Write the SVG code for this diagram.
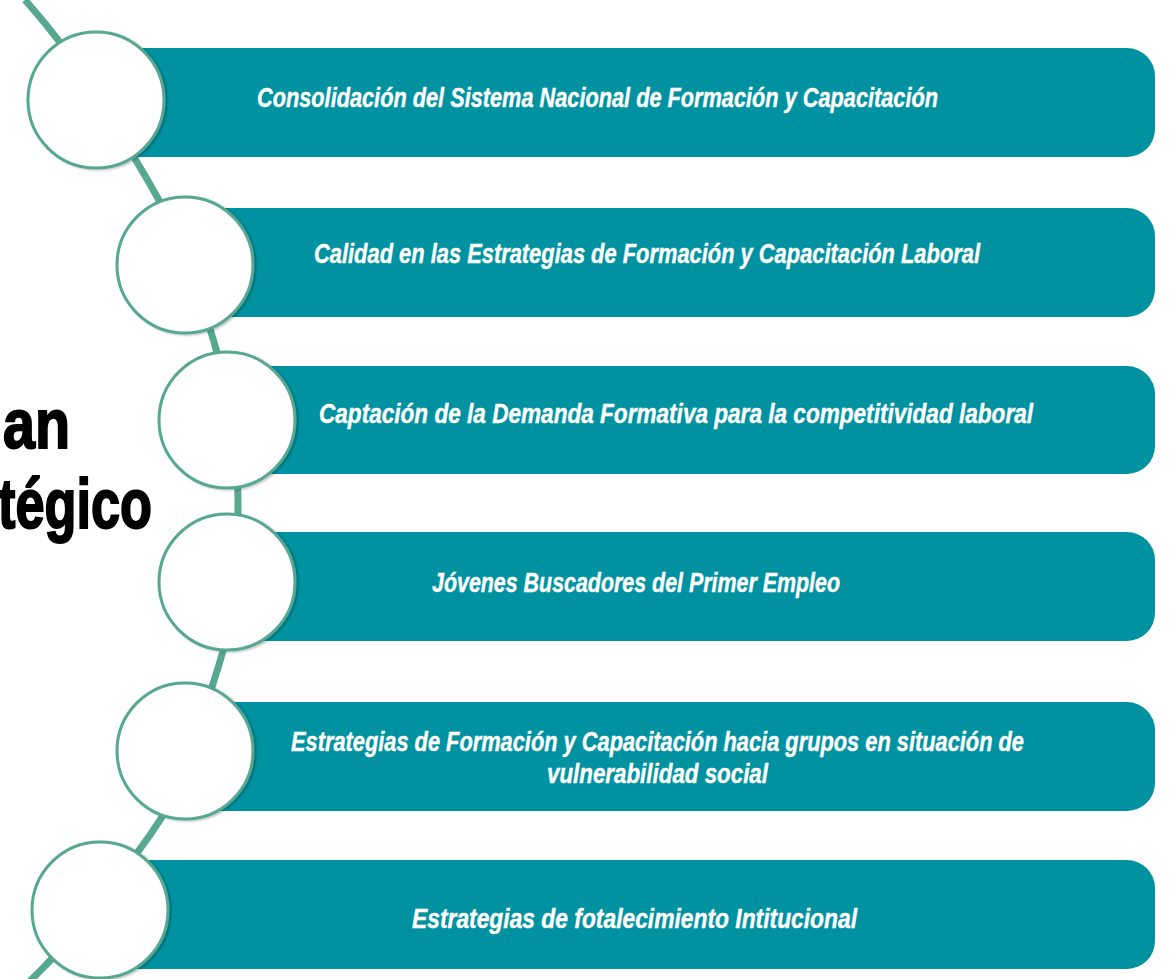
<svg xmlns="http://www.w3.org/2000/svg" width="1174" height="979" viewBox="0 0 1174 979">
<style>
.bar{fill:#0092A0;}
.dot{fill:#ffffff;stroke:#56A891;stroke-width:3;}
.lbl{font-family:"Liberation Sans",Arial,sans-serif;font-weight:bold;font-style:italic;font-size:27px;fill:#ffffff;stroke:#ffffff;stroke-width:0.4;}
.ttl{font-family:"Liberation Sans",Arial,sans-serif;font-weight:bold;font-size:70px;fill:#000000;stroke:#000000;stroke-width:2;}
</style>
<defs>
<filter id="sh" x="-10%" y="-10%" width="125%" height="120%">
<feDropShadow dx="2" dy="1" stdDeviation="1" flood-color="#000" flood-opacity="0.25"/>
</filter>
</defs>
<rect width="1174" height="979" fill="#ffffff"/>
<g id="title">
<text class="ttl" x="3" y="448" textLength="67" lengthAdjust="spacingAndGlyphs">an</text>
<text class="ttl" x="-2" y="528" textLength="154" lengthAdjust="spacingAndGlyphs">tégico</text>
</g>
<g id="connectors">
<path d="M25,0 L32,8 C81.9,65 113.1,122 147,179 C179.3,233.3 197.7,287.7 214,342 C229.9,395 238,448 238,501 C238,556.7 236.4,612.3 218,668 C199.6,723.7 190.1,779.3 150,835 C118.1,879.3 87.3,923.7 43,968 L30,981" fill="none" stroke="#56A891" stroke-width="7"/>
</g>
<g id="node1">
<path class="bar" d="M96,48 H1127 A28,28 0 0 1 1155,76 V129 A28,28 0 0 1 1127,157 H96 Z"/>
<circle class="dot" cx="96" cy="100" r="68" filter="url(#sh)"/>
<text class="lbl" x="257" y="107" textLength="681" lengthAdjust="spacingAndGlyphs">Consolidación del Sistema Nacional de Formación y Capacitación</text>
</g>
<g id="node2">
<path class="bar" d="M185,208 H1127 A28,28 0 0 1 1155,236 V289 A28,28 0 0 1 1127,317 H185 Z"/>
<circle class="dot" cx="185" cy="265" r="68" filter="url(#sh)"/>
<text class="lbl" x="314" y="263" textLength="666" lengthAdjust="spacingAndGlyphs">Calidad en las Estrategias de Formación y Capacitación Laboral</text>
</g>
<g id="node3">
<path class="bar" d="M227,366 H1127 A28,28 0 0 1 1155,394 V446 A28,28 0 0 1 1127,474 H227 Z"/>
<circle class="dot" cx="227" cy="420" r="68" filter="url(#sh)"/>
<text class="lbl" x="319" y="423" textLength="714" lengthAdjust="spacingAndGlyphs">Captación de la Demanda Formativa para la competitividad laboral</text>
</g>
<g id="node4">
<path class="bar" d="M227,532 H1127 A28,28 0 0 1 1155,560 V613 A28,28 0 0 1 1127,641 H227 Z"/>
<circle class="dot" cx="227" cy="582" r="68" filter="url(#sh)"/>
<text class="lbl" x="432" y="592" textLength="408" lengthAdjust="spacingAndGlyphs">Jóvenes Buscadores del Primer Empleo</text>
</g>
<g id="node5">
<path class="bar" d="M185,702 H1127 A28,28 0 0 1 1155,730 V783 A28,28 0 0 1 1127,811 H185 Z"/>
<circle class="dot" cx="185" cy="751" r="68" filter="url(#sh)"/>
<text class="lbl" x="291" y="751" textLength="733" lengthAdjust="spacingAndGlyphs">Estrategias de Formación y Capacitación hacia grupos en situación de</text>
<text class="lbl" x="547" y="783" textLength="221" lengthAdjust="spacingAndGlyphs">vulnerabilidad social</text>
</g>
<g id="node6">
<path class="bar" d="M100,860 H1127 A28,28 0 0 1 1155,888 V941 A28,28 0 0 1 1127,969 H100 Z"/>
<circle class="dot" cx="100" cy="910" r="68" filter="url(#sh)"/>
<text class="lbl" x="412" y="928" textLength="445" lengthAdjust="spacingAndGlyphs">Estrategias de fotalecimiento Intitucional</text>
</g>
</svg>
